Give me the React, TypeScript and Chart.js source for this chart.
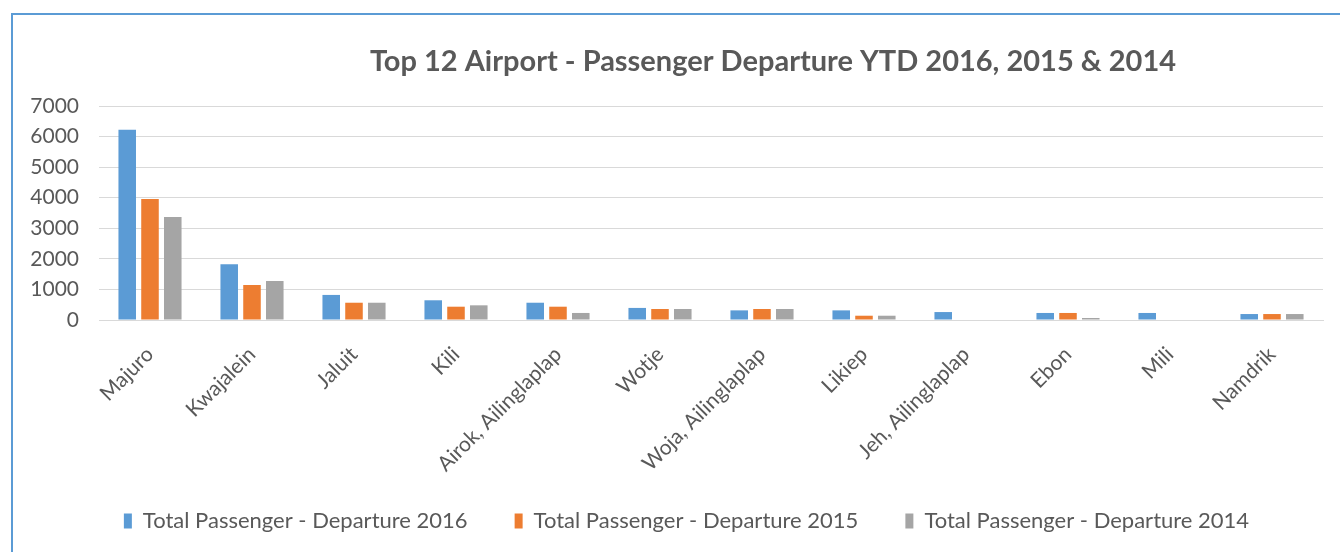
import React, { useEffect, useRef } from "react";
import { Chart, registerables } from "chart.js";

Chart.register(...registerables);

const categories = [
  "Majuro",
  "Kwajalein",
  "Jaluit",
  "Kili",
  "Airok, Ailinglaplap",
  "Wotje",
  "Woja, Ailinglaplap",
  "Likiep",
  "Jeh, Ailinglaplap",
  "Ebon",
  "Mili",
  "Namdrik",
];

const departures2016 = [6220, 1820, 820, 645, 565, 395, 315, 315, 260, 230, 230, 195];
const departures2015 = [3960, 1145, 565, 435, 435, 360, 360, 140, 0, 230, 0, 195];
const departures2014 = [3370, 1275, 565, 480, 230, 360, 360, 140, 0, 65, 0, 195];

const seriesNames = [
  "Total Passenger - Departure 2016",
  "Total Passenger - Departure 2015",
  "Total Passenger - Departure 2014",
];

const chartTitle = "Top 12 Airport - Passenger Departure YTD 2016, 2015 & 2014";

const FONT = "Lato, 'Open Sans', sans-serif";
const TEXT = "#595959";

const shiftBlocks = {
  id: "shiftBlocks",
  afterLayout(chart: any) {
    const t = chart.titleBlock;
    if (t) {
      t.left = 211;
      t.right = 1335;
    }
    const l = chart.legend;
    if (l) {
      l.left += 25;
      l.right += 25;
      l.top -= 10;
      l.bottom -= 10;
    }
  },
};

export default function App() {
  const canvasRef = useRef<HTMLCanvasElement | null>(null);

  useEffect(() => {
    if (!canvasRef.current) return;
    const chart = new Chart(canvasRef.current, {
      type: "bar",
      data: {
        labels: categories,
        datasets: [
          { label: seriesNames[0], data: departures2016, backgroundColor: "#5B9BD5" },
          { label: seriesNames[1], data: departures2015, backgroundColor: "#ED7D31" },
          { label: seriesNames[2], data: departures2014, backgroundColor: "#A5A5A5" },
        ].map((d) => ({ ...d, categoryPercentage: 0.67, barPercentage: 0.77 })),
      },
      plugins: [shiftBlocks],
      options: {
        animation: false,
        responsive: false,
        layout: { padding: { left: 0, right: 17, top: 0, bottom: 0 } },
        plugins: {
          title: {
            display: true,
            text: chartTitle,
            color: TEXT,
            font: { family: FONT, size: 29, weight: "bold" },
            padding: { top: 44.6, bottom: 26.6 },
          },
          legend: {
            position: "bottom",
            labels: {
              color: TEXT,
              font: { family: FONT, size: 22 },
              boxWidth: 8,
              boxHeight: 15,
              padding: 47,
            },
          },
          tooltip: { enabled: false },
        },
        scales: {
          x: {
            grid: { display: false },
            border: { color: "#D9D9D9", width: 1 },
            ticks: {
              color: TEXT,
              font: { family: FONT, size: 21 },
              minRotation: 45,
              maxRotation: 45,
              autoSkip: false,
              labelOffset: 0,
              padding: 14,
            },
            afterFit: (scale: any) => {
              scale.height = 153;
            },
          },
          y: {
            min: 0,
            max: 7000,
            border: { display: false },
            grid: { color: "#D9D9D9", drawTicks: false },
            ticks: {
              color: TEXT,
              font: { family: FONT, size: 21 },
              stepSize: 1000,
              padding: 20,
              callback: (v: any) => String(v),
            },
            afterFit: (scale: any) => {
              scale.width = 99;
            },
          },
        },
      },
    });
    return () => chart.destroy();
  }, []);

  return (
    <div style={{ position: "fixed", left: 0, top: 0, width: 1340, height: 552, overflow: "hidden", background: "#fff" }}>
      <div
        style={{
          position: "absolute",
          left: 11,
          top: 13,
          width: 1400,
          height: 600,
          border: "2px solid #5B9BD5",
          boxSizing: "border-box",
        }}
      />
      <canvas ref={canvasRef} width={1340} height={552} style={{ position: "absolute", left: 0, top: 0, width: 1340, height: 552 }} />
    </div>
  );
}
